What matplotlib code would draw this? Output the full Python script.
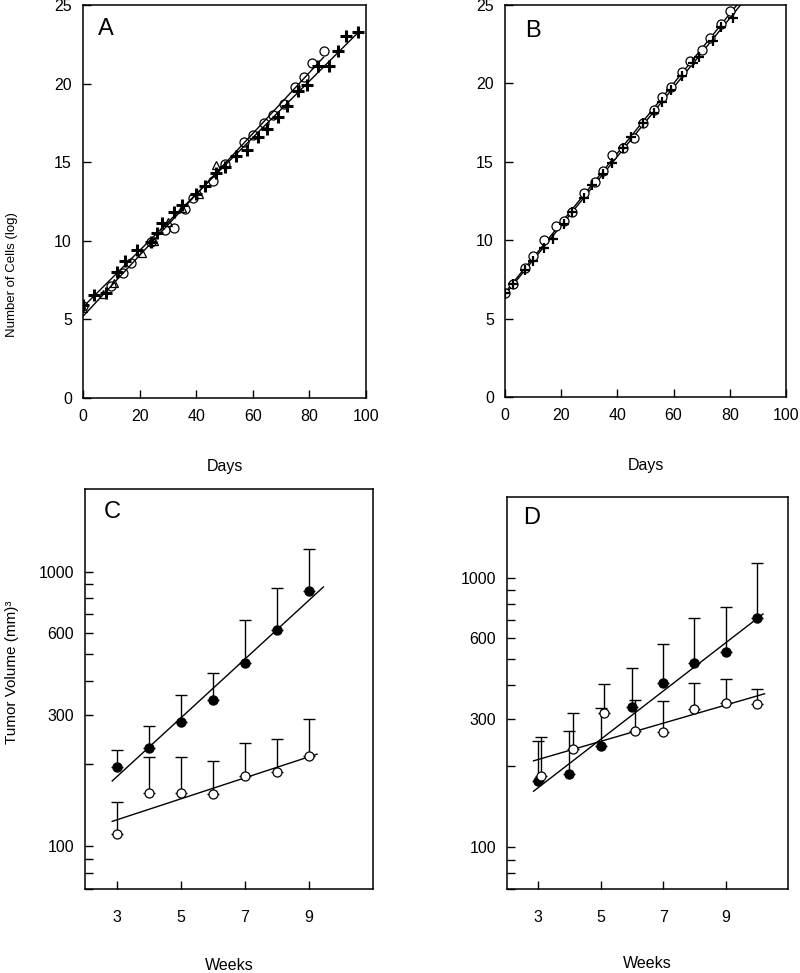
import matplotlib
matplotlib.use('Agg')
import matplotlib.pyplot as plt
import matplotlib.ticker as mticker
import numpy as np

matplotlib.rcParams.update({'font.size': 11.5})
plt.rcParams['font.family'] = ['Liberation Sans', 'DejaVu Sans']

# ---- panel A: number of cells (log) vs days ----
a_circ_days = [0, 10, 14, 17, 24, 29, 32, 36, 39, 46, 50, 57, 60, 64, 67, 71, 75, 78, 81, 85]
a_circ_vals = [5.85, 7.1, 7.95, 8.6, 9.9, 10.7, 10.8, 12.0, 12.7, 13.8, 14.9, 16.3, 16.7, 17.5, 18.0, 18.7, 19.8, 20.4, 21.3, 22.1]
a_cross_days = [0, 4, 8, 12, 15, 19, 24, 26, 28, 32, 35, 40, 43, 47, 50, 54, 58, 62, 65, 69, 72, 76, 79, 83, 87, 90, 93, 97]
a_cross_vals = [5.9, 6.55, 6.7, 8.0, 8.7, 9.4, 9.9, 10.5, 11.1, 11.8, 12.3, 13.0, 13.5, 14.3, 14.7, 15.4, 15.8, 16.6, 17.1, 17.9, 18.6, 19.5, 19.9, 21.1, 21.1, 22.1, 23.0, 23.3]
a_tri_days = [0, 7, 11, 21, 25, 30, 35, 41, 47]
a_tri_vals = [5.7, 6.6, 7.3, 9.2, 10.0, 11.2, 12.1, 13.0, 14.8]

# ---- panel B ----
b_circ_days = [0, 3, 7, 10, 14, 18, 21, 24, 28, 32, 35, 38, 42, 46, 49, 53, 56, 59, 63, 66, 70, 73, 77, 80]
b_circ_vals = [6.6, 7.2, 8.2, 9.0, 10.0, 10.9, 11.2, 11.8, 13.0, 13.7, 14.4, 15.4, 15.9, 16.5, 17.5, 18.3, 19.1, 19.8, 20.7, 21.4, 22.1, 22.9, 23.8, 24.6]
b_cross_days = [0, 3, 7, 10, 14, 17, 21, 24, 28, 31, 35, 38, 42, 45, 49, 53, 56, 59, 63, 67, 69, 74, 77, 81]
b_cross_vals = [6.6, 7.2, 8.1, 8.7, 9.5, 10.1, 11.0, 11.8, 12.7, 13.5, 14.2, 14.9, 15.9, 16.6, 17.5, 18.1, 18.8, 19.6, 20.5, 21.3, 21.7, 22.7, 23.6, 24.2]

# ---- panel C: tumor volume, mean and mean+SE ----
c_weeks = [3, 4, 5, 6, 7, 8, 9]
c_filled = [195, 229, 285, 342, 467, 615, 853]
c_filled_top = [225, 275, 357, 429, 669, 874, 1213]
c_open = [111, 156, 157, 155, 181, 186, 214]
c_open_top = [145, 212, 212, 205, 239, 247, 290]

# ---- panel D ----
d_weeks_filled = [3, 4, 5, 6, 7, 8, 9, 10]
d_filled = [176, 187, 237, 331, 407, 483, 531, 710]
d_filled_top = [248, 270, 329, 463, 568, 710, 780, 1137]
d_weeks_open = [3.1, 4.1, 5.1, 6.1, 7, 8, 9, 10]
d_open = [184, 231, 315, 270, 268, 326, 343, 340]
d_open_top = [256, 315, 404, 352, 349, 407, 421, 387]

log_ticks = [100, 300, 600, 1000]
log_minor = [70, 80, 90, 200, 400, 500, 700, 800, 900]


def fit(x, y, x0, x1, log=False):
    x = np.asarray(x, float)
    y = np.asarray(y, float)
    if log:
        y = np.log10(y)
    k, b = np.polyfit(x, y, 1)
    xs = np.array([x0, x1])
    ys = k * xs + b
    return xs, (10 ** ys if log else ys)


def style(ax, pad_x, pad_y):
    for s in ax.spines.values():
        s.set_linewidth(1.1)
    ax.tick_params(which='both', direction='in', length=6, width=1,
                   top=False, right=False)
    ax.tick_params(axis='x', pad=pad_x)
    ax.tick_params(axis='y', pad=pad_y)


fig = plt.figure(figsize=(8, 9.73), dpi=100)

axA = fig.add_axes([0.10375, 0.5910, 0.35375, 0.4039])
axB = fig.add_axes([0.63125, 0.5920, 0.35125, 0.4029])
axC = fig.add_axes([0.10625, 0.0863, 0.36, 0.4111])
axD = fig.add_axes([0.63375, 0.0863, 0.35125, 0.4029])

# panel A
axA.plot(*fit(a_circ_days, a_circ_vals, 0, max(a_circ_days)), color='k', lw=1)
axA.plot(*fit(a_cross_days, a_cross_vals, 0, max(a_cross_days)), color='k', lw=1)
axA.plot(a_tri_days, a_tri_vals, '^', ms=6, mfc='none', mec='k', mew=0.9)
axA.plot(a_circ_days, a_circ_vals, 'o', ms=6.5, mfc='none', mec='k', mew=0.9)
axA.plot(a_cross_days, a_cross_vals, '+', ms=8, mec='k', mew=2.2)

# panel B
axB.plot(*fit(b_circ_days, b_circ_vals, 0, 95), color='k', lw=1)
axB.plot(*fit(b_cross_days, b_cross_vals, 0, 95), color='k', lw=1)
axB.plot(b_circ_days, b_circ_vals, 'o', ms=6.5, mfc='white', mec='k', mew=0.9)
axB.plot(b_cross_days, b_cross_vals, '+', ms=7, mec='k', mew=1.6)

for ax, lab in [(axA, 'A'), (axB, 'B')]:
    ax.set_xlim(0, 100)
    ax.set_ylim(0, 25)
    ax.set_xticks(range(0, 101, 20))
    ax.set_yticks(range(0, 26, 5))
    style(ax, 8, 8)
    ax.set_xlabel('Days', fontsize=11.5)
    ax.xaxis.set_label_coords(0.5, -0.1756)
    ax.xaxis.label.set_va('center')

axA.text(0.08, 0.94, 'A', transform=axA.transAxes, fontsize=17, ha='center', va='center')
axB.text(0.10, 0.934, 'B', transform=axB.transAxes, fontsize=17, ha='center', va='center')

# panels C and D (log volume)
def volume_panel(ax, wf, yf, tf, wo, yo, to, span_f, span_o):
    ax.set_yscale('log')
    ax.plot(*fit(wf, yf, *span_f, log=True), color='k', lw=1, zorder=2)
    ax.plot(*fit(wo, yo, *span_o, log=True), color='k', lw=1, zorder=2)
    for w, y, t in [(wf, yf, tf), (wo, yo, to)]:
        up = np.array(t) - np.array(y)
        ax.errorbar(w, y, yerr=[np.zeros_like(up), up], fmt='none',
                    ecolor='k', elinewidth=1, capsize=4, capthick=1, zorder=1)
    ax.plot(wf, yf, 'o', ms=6.5, mfc='k', mec='k', zorder=3)
    ax.plot(wo, yo, 'o', ms=6.5, mfc='white', mec='k', mew=0.9, zorder=3)
    ax.set_xlim(2, 11)
    ax.set_ylim(70, 2000)
    ax.set_xticks([3, 5, 7, 9])
    ax.yaxis.set_major_locator(mticker.FixedLocator(log_ticks))
    ax.yaxis.set_major_formatter(mticker.FixedFormatter([str(v) for v in log_ticks]))
    ax.yaxis.set_minor_locator(mticker.FixedLocator(log_minor))
    ax.yaxis.set_minor_formatter(mticker.NullFormatter())
    style(ax, 15, 8)
    ax.set_xlabel('Weeks', fontsize=11.5)
    ax.xaxis.label.set_va('center')


volume_panel(axC, c_weeks, c_filled, c_filled_top, c_weeks, c_open, c_open_top,
             (2.85, 9.45), (2.85, 9.25))
volume_panel(axD, d_weeks_filled, d_filled, d_filled_top, d_weeks_open, d_open, d_open_top,
             (2.85, 10.2), (2.85, 10.25))
axC.xaxis.set_label_coords(0.5, -0.19)
axD.xaxis.set_label_coords(0.5, -0.189)
axC.text(0.094, 0.9425, 'C', transform=axC.transAxes, fontsize=17, ha='center', va='center')
axD.text(0.089, 0.946, 'D', transform=axD.transAxes, fontsize=17, ha='center', va='center')

fig.text(12 / 800, 1 - 275 / 973, 'Number of Cells (log)', rotation=90,
         ha='center', va='center', fontsize=9.5)
fig.text(12 / 800, 1 - 672 / 973, 'Tumor Volume (mm)\u00b3', rotation=90,
         ha='center', va='center', fontsize=11)

fig.savefig('out.png', dpi=100)
